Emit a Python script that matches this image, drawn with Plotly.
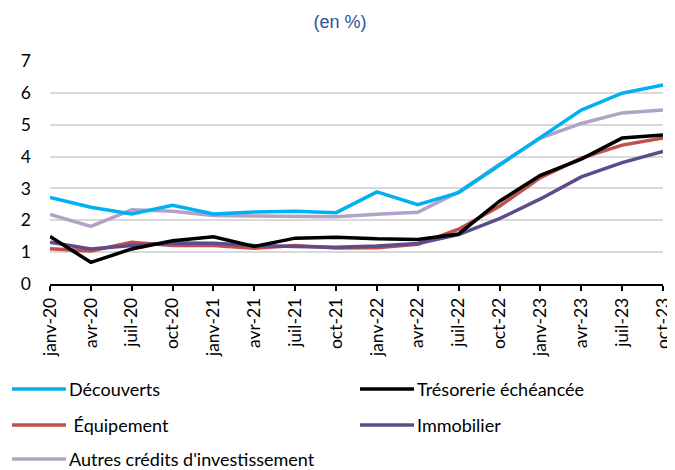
import plotly.graph_objects as go

categories = ["janv-20", "avr-20", "juil-20", "oct-20", "janv-21", "avr-21", "juil-21", "oct-21",
              "janv-22", "avr-22", "juil-22", "oct-22", "janv-23", "avr-23", "juil-23", "oct-23"]

decouverts = [2.72, 2.41, 2.20, 2.47, 2.20, 2.26, 2.28, 2.24, 2.89, 2.49, 2.87, 3.74, 4.58, 5.46, 5.99, 6.25]
tresorerie = [1.49, 0.68, 1.10, 1.36, 1.48, 1.18, 1.44, 1.47, 1.42, 1.40, 1.57, 2.60, 3.41, 3.92, 4.58, 4.68]
equipement = [1.11, 1.04, 1.31, 1.21, 1.21, 1.12, 1.21, 1.13, 1.14, 1.25, 1.72, 2.44, 3.34, 3.95, 4.36, 4.58]
immobilier = [1.31, 1.10, 1.21, 1.29, 1.28, 1.21, 1.18, 1.15, 1.19, 1.27, 1.55, 2.05, 2.67, 3.36, 3.81, 4.16]
autres = [2.18, 1.81, 2.33, 2.28, 2.15, 2.14, 2.14, 2.11, 2.19, 2.25, 2.89, 3.76, 4.58, 5.04, 5.37, 5.46]

series_names = ["Découverts", "Trésorerie échéancée", " Équipement", "Immobilier",
                "Autres crédits d'investissement"]
series_values = [decouverts, tresorerie, equipement, immobilier, autres]
series_colors = ["#00B0F0", "#000000", "#C0504D", "#5F4B8B", "#B3A2C7"]
draw_order = [4, 0, 2, 3, 1]

y_ticks = [0, 1, 2, 3, 4, 5, 6, 7]

FONT = "Lato"

# The page body has an 8px margin: the figure is drawn offset by 8px.
OFF = 8
W, H = 675 - OFF, 470 - OFF
# plot area in page pixels: x 50..663, y 61..284
L, R, T, B = 50 - OFF, 675 - 663, 61 - OFF, 470 - 284
pw, ph = W - L - R, H - T - B


def px_x(px):
    return (px - OFF - L) / pw


def px_y(py):
    return (H - B - (py - OFF)) / ph


fig = go.Figure()
for i in draw_order:
    fig.add_trace(go.Scatter(
        x=categories, y=series_values[i], mode="lines", name=series_names[i],
        line=dict(color=series_colors[i], width=3.5), showlegend=False,
    ))

legend_pos = [(12, 389), (360, 389), (12, 425), (360, 425), (12, 459)]
for (lx, ly), name, color in zip(legend_pos, series_names, series_colors):
    fig.add_shape(type="line", xref="paper", yref="paper",
                  x0=px_x(lx), x1=px_x(lx + 54), y0=px_y(ly), y1=px_y(ly),
                  line=dict(color=color, width=3.5))
    fig.add_annotation(xref="paper", yref="paper", x=px_x(lx + 55), y=px_y(ly),
                       text=name, showarrow=False, xanchor="left", yanchor="middle",
                       font=dict(family=FONT, size=18, color="#000000"))

fig.update_layout(
    width=W, height=H,
    margin=dict(l=L, r=R, t=T, b=B),
    paper_bgcolor="white", plot_bgcolor="white",
    title=dict(text="(en %)", x=(340 - OFF) / W, xanchor="center", y=1 - (22 - OFF) / H,
               yanchor="middle",
               font=dict(family="Liberation Sans", size=18, color="#2F5496")),
    showlegend=False,
)
fig.update_xaxes(
    type="category", range=[0, len(categories) - 1],
    tickangle=-90, ticks="outside", ticklen=5, tickcolor="black", tickwidth=1.5,
    showline=True, linecolor="black", linewidth=1.5, showgrid=False,
    tickfont=dict(family=FONT, size=17.5, color="black"), automargin=False,
)
fig.update_yaxes(
    range=[0, 7], tickvals=y_ticks, showgrid=True, gridcolor="#D9D9D9", gridwidth=1.5,
    zeroline=False, showline=False, ticks="", ticklabelstandoff=18,
    tickfont=dict(family=FONT, size=17.5, color="black"), automargin=False,
)

fig.write_html("out.html")
